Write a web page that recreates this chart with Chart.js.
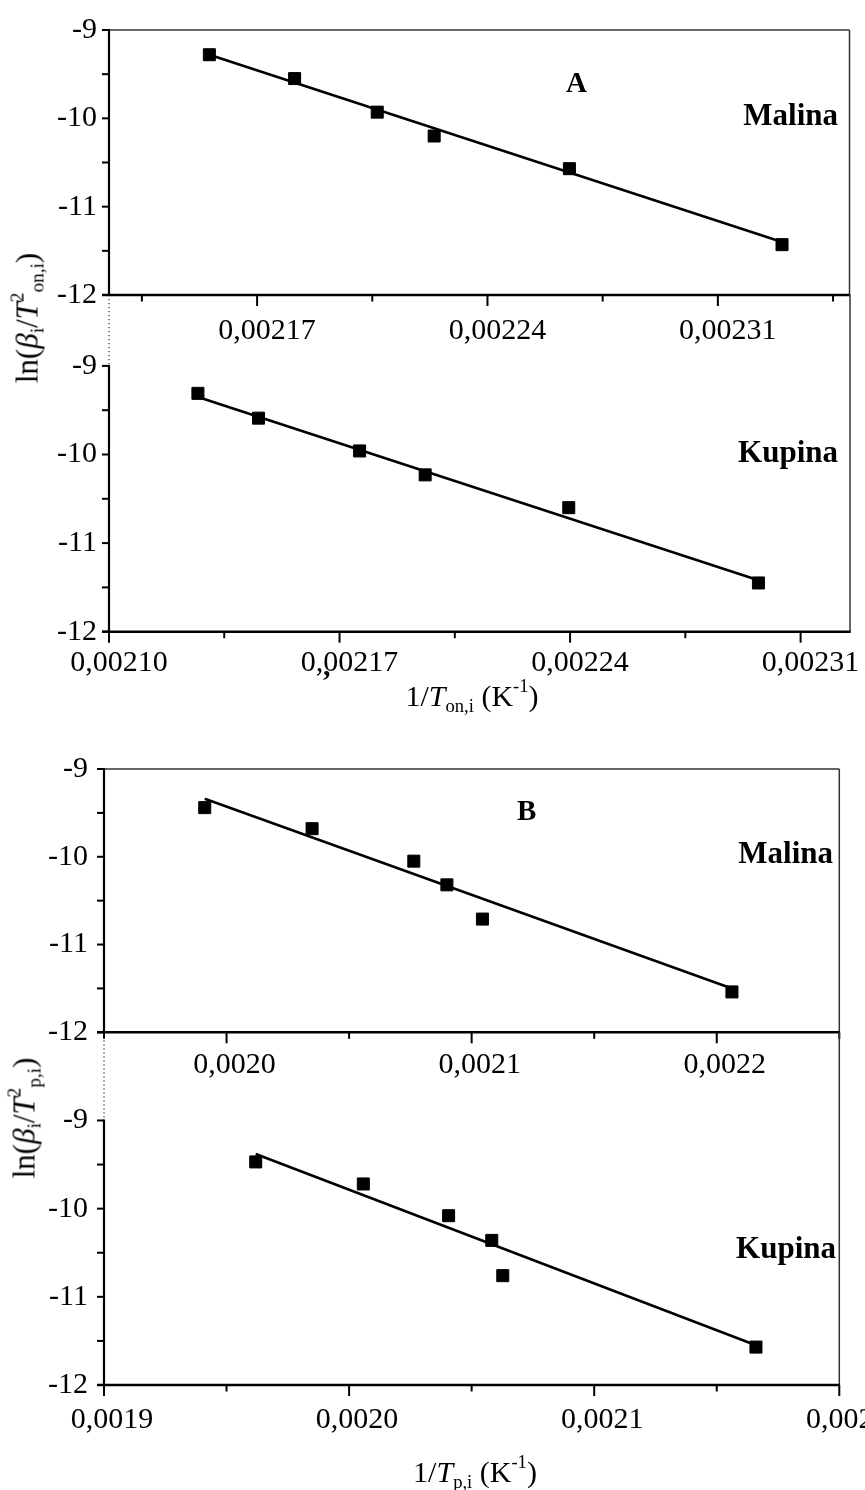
<!DOCTYPE html>
<html><head><meta charset="utf-8">
<script src="https://cdn.jsdelivr.net/npm/chart.js@4.4.1/dist/chart.umd.min.js"></script>
<style>
html,body{margin:0;padding:0;background:#fff;}
body{width:865px;height:1490px;position:relative;overflow:hidden;font-family:"Liberation Serif","Times New Roman",serif;color:#000;}
canvas{position:absolute;left:0;}
.t{position:absolute;white-space:nowrap;color:#000;font-family:"Liberation Serif","Times New Roman",serif;line-height:1;}
.b{font-weight:bold;}
.yt{font-size:31px;transform:translate(-50%,-50%) rotate(-90deg);}
.xt{font-size:30px;transform:translate(-50%,-50%);}
.t sub,.t sup{font-size:62%;line-height:0;}
.t sup{vertical-align:0.75em;}
.t sub{vertical-align:-0.3em;}
</style></head><body>
<canvas id="aTop" width="865" height="360" style="top:0px"></canvas>
<canvas id="aBot" width="865" height="440" style="top:250px"></canvas>
<canvas id="bTop" width="865" height="380" style="top:730px"></canvas>
<canvas id="bBot" width="865" height="470" style="top:990px"></canvas>

<div class="t b" style="left:566px;top:68px;font-size:29px;">A</div>
<div class="t b" style="right:27px;top:99px;font-size:31px;">Malina</div>
<div class="t b" style="right:27px;top:436px;font-size:31px;">Kupina</div>
<div class="t b" style="left:323px;top:650px;font-size:30px;">,</div>
<div class="t yt" style="left:27px;top:318px;">ln(<i>β</i><sub>i</sub>/<i>T</i><sup>2</sup><sub>on,i</sub>)</div>
<div class="t xt" style="left:472px;top:696px;">1/<i>T</i><sub>on,i</sub> (K<sup>-1</sup>)</div>

<div class="t b" style="left:517px;top:796px;font-size:29px;">B</div>
<div class="t b" style="right:32px;top:837px;font-size:31px;">Malina</div>
<div class="t b" style="right:29px;top:1232px;font-size:31px;">Kupina</div>
<div class="t yt" style="left:24px;top:1118px;">ln(<i>β</i><sub>i</sub>/<i>T</i><sup>2</sup><sub>p,i</sub>)</div>
<div class="t xt" style="left:475px;top:1472px;">1/<i>T</i><sub>p,i</sub> (K<sup>-1</sup>)</div>

<script>
// ---------- data ----------
const aMalinaX = [0.0021555, 0.0021814, 0.0022065, 0.0022238, 0.0022649, 0.0023295];
const aMalinaY = [-9.28, -9.55, -9.93, -10.20, -10.57, -11.43];
const aMalinaFitX = [0.0021555, 0.0023295];
const aMalinaFitY = [-9.28, -11.40];

const aKupinaX = [0.0021270, 0.0021454, 0.0021761, 0.0021960, 0.0022396, 0.0022972];
const aKupinaY = [-9.31, -9.59, -9.96, -10.23, -10.60, -11.45];
const aKupinaFitX = [0.0021270, 0.0022972];
const aKupinaFitY = [-9.35, -11.42];

const bMalinaX = [0.0019911, 0.0020349, 0.0020764, 0.0020899, 0.0021044, 0.0022062];
const bMalinaY = [-9.44, -9.68, -10.05, -10.32, -10.71, -11.54];
const bMalinaFitX = [0.0019911, 0.0022062];
const bMalinaFitY = [-9.34, -11.50];

const bKupinaX = [0.0019619, 0.0020058, 0.0020406, 0.0020582, 0.0020627, 0.0021660];
const bKupinaY = [-9.47, -9.72, -10.08, -10.36, -10.76, -11.57];
const bKupinaFitX = [0.0019619, 0.0021660];
const bKupinaFitY = [-9.38, -11.55];

// ---------- ticks ----------
const yMajor = [-12, -11, -10, -9];
const yMinor = [-11.5, -10.5, -9.5];
const yLabels = ['-12', '-11', '-10', '-9'];

const aTopMajorX = [0.00217, 0.00224, 0.00231];
const aTopMinorX = [0.002135, 0.002205, 0.002275, 0.002345];
const aTopLabels = ['0,00217', '0,00224', '0,00231'];
const aBotMajorX = [0.00210, 0.00217, 0.00224, 0.00231];
const aBotMinorX = [0.002135, 0.002205, 0.002275];
const aBotLabels = ['0,00210', '0,00217', '0,00224', '0,00231'];

const bTopMajorX = [0.0020, 0.0021, 0.0022];
const bTopMinorX = [0.00195, 0.00205, 0.00215, 0.00225];
const bTopLabels = ['0,0020', '0,0021', '0,0022'];
const bBotMajorX = [0.0019, 0.0020, 0.0021, 0.0022];
const bBotMinorX = [0.00195, 0.00205, 0.00215];
const bBotLabels = ['0,0019', '0,0020', '0,0021', '0,0022'];

const FONT = "'Liberation Serif','Times New Roman',serif";

function framePlugin(o) {
  return {
    id: 'frame_' + o.id,
    afterDraw(chart) {
      const ctx = chart.ctx, a = chart.chartArea, x = chart.scales.x, y = chart.scales.y;
      const y9 = y.getPixelForValue(-9), y12 = y.getPixelForValue(-12);
      const ln = (x1, y1, x2, y2) => { ctx.beginPath(); ctx.moveTo(x1, y1); ctx.lineTo(x2, y2); ctx.stroke(); };
      ctx.save();
      ctx.lineCap = 'butt';
      ctx.strokeStyle = '#333';
      ctx.lineWidth = 1.5;
      ln(a.right, a.top, a.right, a.bottom);
      if (o.topBorder) { ctx.lineWidth = 1.3; ln(a.left, a.top, a.right, a.top); }
      ctx.strokeStyle = '#000';
      if (o.dotted) {
        ctx.setLineDash([1.2, 2.8]);
        ctx.lineWidth = 1;
        ln(a.left, a.top, a.left, y9);
        ctx.setLineDash([]);
      }
      ctx.lineWidth = 2.2;
      ln(a.left, y9 - 1, a.left, y12 + 1);
      ctx.lineWidth = 2.6;
      ln(a.left - 7, a.bottom, a.right + 0.7, a.bottom);
      ctx.lineWidth = 2;
      yMajor.concat(yMinor).forEach(v => { const p = y.getPixelForValue(v); ln(a.left - 7, p, a.left, p); });
      o.majorX.forEach(v => { const p = x.getPixelForValue(v); ln(p, a.bottom, p, a.bottom + 11); });
      o.minorX.forEach(v => { const p = x.getPixelForValue(v); ln(p, a.bottom, p, a.bottom + 6.5); });
      ctx.restore();
    }
  };
}

function zeroPad(s) { s.paddingLeft = 0; s.paddingRight = 0; s.paddingTop = 0; s.paddingBottom = 0; }

function panel(o) {
  const cv = document.getElementById(o.id);
  const H = cv.height, T = parseFloat(cv.style.top);
  const top = o.top - T, bottom = o.bottom - T;
  return new Chart(cv, {
    type: 'scatter',
    data: {
      datasets: [
        { data: o.fitX.map((v, i) => ({ x: v, y: o.fitY[i] })), showLine: true, borderColor: '#000',
          borderWidth: 2.6, pointRadius: 0, backgroundColor: '#000', order: 2 },
        { data: o.xs.map((v, i) => ({ x: v, y: o.ys[i] })), pointStyle: 'rect', pointRadius: 8.5,
          backgroundColor: '#000', borderColor: '#000', borderWidth: 1, order: 1 }
      ]
    },
    options: {
      responsive: false, animation: false, devicePixelRatio: 1,
      clip: false,
      layout: { padding: { top: top, right: 865 - o.right, left: 0, bottom: 0 } },
      plugins: { legend: { display: false }, tooltip: { enabled: false } },
      scales: {
        x: {
          type: 'linear', min: o.xMin, max: o.xMax,
          grid: { display: false, drawTicks: false }, border: { display: false },
          afterBuildTicks: s => { s.ticks = o.majorX.map(v => ({ value: v })); },
          afterFit: s => { s.height = H - bottom; zeroPad(s); },
          ticks: { autoSkip: false, maxRotation: 0, minRotation: 0, color: '#000',
            font: { family: FONT, size: 30 }, padding: o.xPad, labelOffset: o.labelOffset,
            callback: (v, i) => o.labels[i] }
        },
        y: {
          type: 'linear', min: -12, max: o.yMax,
          grid: { display: false, drawTicks: false }, border: { display: false },
          afterBuildTicks: s => { s.ticks = yMajor.map(v => ({ value: v })); },
          afterFit: s => { s.width = o.left; zeroPad(s); },
          ticks: { color: '#000', font: { family: FONT, size: 30 }, padding: o.yPad,
            callback: (v, i) => yLabels[i] }
        }
      }
    },
    plugins: [framePlugin(o)]
  });
}

panel({ id: 'aTop', left: 109, right: 849.5, top: 30, bottom: 295, xMin: 0.002125, xMax: 0.00235, yMax: -9,
  xs: aMalinaX, ys: aMalinaY, fitX: aMalinaFitX, fitY: aMalinaFitY,
  majorX: aTopMajorX, minorX: aTopMinorX, labels: aTopLabels, xPad: 18, yPad: 12, labelOffset: 10,
  topBorder: true, dotted: false });
panel({ id: 'aBot', left: 109, right: 850, top: 295, bottom: 631.7, xMin: 0.0021, xMax: 0.002325, yMax: -8.2,
  xs: aKupinaX, ys: aKupinaY, fitX: aKupinaFitX, fitY: aKupinaFitY,
  majorX: aBotMajorX, minorX: aBotMinorX, labels: aBotLabels, xPad: 13.5, yPad: 12, labelOffset: 10,
  topBorder: false, dotted: true });
panel({ id: 'bTop', left: 104, right: 839.3, top: 769, bottom: 1032.3, xMin: 0.00195, xMax: 0.00225, yMax: -9,
  xs: bMalinaX, ys: bMalinaY, fitX: bMalinaFitX, fitY: bMalinaFitY,
  majorX: bTopMajorX, minorX: bTopMinorX, labels: bTopLabels, xPad: 15, yPad: 16, labelOffset: 8,
  topBorder: true, dotted: false });
panel({ id: 'bBot', left: 104, right: 839.3, top: 1032.3, bottom: 1385, xMin: 0.0019, xMax: 0.0022, yMax: -8.0,
  xs: bKupinaX, ys: bKupinaY, fitX: bKupinaFitX, fitY: bKupinaFitY,
  majorX: bBotMajorX, minorX: bBotMinorX, labels: bBotLabels, xPad: 17, yPad: 16, labelOffset: 8,
  topBorder: false, dotted: true });
</script>
</body></html>
